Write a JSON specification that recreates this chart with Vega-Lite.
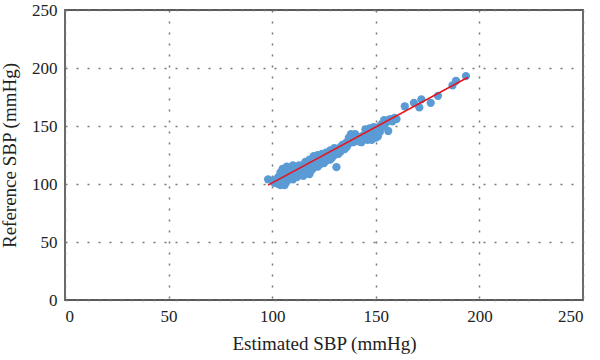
{
  "$schema": "https://vega.github.io/schema/vega-lite/v6.json",
  "width": 518,
  "height": 290,
  "autosize": {"type": "none"},
  "padding": {"left": 65, "top": 10, "right": 17, "bottom": 60},
  "background": "white",
  "config": {
    "view": {"stroke": "#5a5a5a", "strokeWidth": 1.8},
    "axis": {
      "labelFont": "Liberation Serif",
      "titleFont": "Liberation Serif",
      "labelFontSize": 17,
      "titleFontSize": 19,
      "titleFontWeight": "normal",
      "labelColor": "#222",
      "titleColor": "#222",
      "domain": false,
      "ticks": false,
      "grid": true,
      "gridColor": "#777",
      "gridDash": [2, 9],
      "gridWidth": 1.5,
      "labelPadding": 8
    }
  },
  "datasets": {
    "pts": [
      {"est": 98, "ref": 104}, {"est": 100, "ref": 103}, {"est": 101, "ref": 101}, {"est": 102, "ref": 104},
      {"est": 103, "ref": 100}, {"est": 104, "ref": 99}, {"est": 103, "ref": 106}, {"est": 104, "ref": 110},
      {"est": 105, "ref": 103}, {"est": 105, "ref": 100}, {"est": 105, "ref": 113}, {"est": 106, "ref": 108},
      {"est": 106, "ref": 112}, {"est": 106, "ref": 99}, {"est": 107, "ref": 105}, {"est": 107, "ref": 102},
      {"est": 107, "ref": 115}, {"est": 108, "ref": 110}, {"est": 108, "ref": 114}, {"est": 109, "ref": 107},
      {"est": 109, "ref": 112}, {"est": 110, "ref": 111}, {"est": 110, "ref": 104}, {"est": 110, "ref": 116},
      {"est": 111, "ref": 113}, {"est": 111, "ref": 108}, {"est": 112, "ref": 106}, {"est": 112, "ref": 115},
      {"est": 112, "ref": 109}, {"est": 113, "ref": 110}, {"est": 113, "ref": 116}, {"est": 113, "ref": 113},
      {"est": 114, "ref": 113}, {"est": 114, "ref": 108}, {"est": 115, "ref": 116}, {"est": 115, "ref": 111},
      {"est": 115, "ref": 107}, {"est": 116, "ref": 114}, {"est": 116, "ref": 119}, {"est": 116, "ref": 109},
      {"est": 117, "ref": 112}, {"est": 117, "ref": 118}, {"est": 118, "ref": 108.6}, {"est": 118, "ref": 115},
      {"est": 118, "ref": 121}, {"est": 119, "ref": 117}, {"est": 119, "ref": 120}, {"est": 119, "ref": 112},
      {"est": 120, "ref": 114}, {"est": 120, "ref": 118}, {"est": 120, "ref": 124}, {"est": 121, "ref": 116},
      {"est": 121, "ref": 122}, {"est": 122, "ref": 119}, {"est": 122, "ref": 115}, {"est": 122, "ref": 125},
      {"est": 123, "ref": 121}, {"est": 123, "ref": 117}, {"est": 124, "ref": 123}, {"est": 124, "ref": 119},
      {"est": 124, "ref": 126}, {"est": 125, "ref": 118}, {"est": 125, "ref": 122}, {"est": 126, "ref": 124},
      {"est": 126, "ref": 120}, {"est": 126, "ref": 127}, {"est": 127, "ref": 122}, {"est": 127, "ref": 126},
      {"est": 128, "ref": 121}, {"est": 128, "ref": 125}, {"est": 128, "ref": 129}, {"est": 129, "ref": 127},
      {"est": 129, "ref": 123}, {"est": 130, "ref": 125}, {"est": 130, "ref": 129}, {"est": 130, "ref": 131},
      {"est": 131, "ref": 127}, {"est": 131, "ref": 114.5}, {"est": 132, "ref": 130}, {"est": 132, "ref": 126},
      {"est": 133, "ref": 128}, {"est": 133, "ref": 132}, {"est": 134, "ref": 131}, {"est": 134, "ref": 134},
      {"est": 135, "ref": 133}, {"est": 135, "ref": 130}, {"est": 136, "ref": 136}, {"est": 136, "ref": 132},
      {"est": 137, "ref": 140}, {"est": 137, "ref": 135}, {"est": 138, "ref": 143}, {"est": 138, "ref": 138},
      {"est": 139, "ref": 141}, {"est": 139, "ref": 136}, {"est": 140, "ref": 139}, {"est": 140, "ref": 143},
      {"est": 141, "ref": 137}, {"est": 141, "ref": 141}, {"est": 142, "ref": 139}, {"est": 143, "ref": 140},
      {"est": 143, "ref": 136}, {"est": 144, "ref": 142}, {"est": 144, "ref": 138}, {"est": 145, "ref": 140},
      {"est": 145, "ref": 147}, {"est": 146, "ref": 138}, {"est": 146, "ref": 144}, {"est": 147, "ref": 148},
      {"est": 147, "ref": 141}, {"est": 148, "ref": 145}, {"est": 148, "ref": 138}, {"est": 149, "ref": 143},
      {"est": 149, "ref": 149}, {"est": 150, "ref": 140}, {"est": 150, "ref": 146}, {"est": 151, "ref": 148},
      {"est": 151, "ref": 141}, {"est": 152, "ref": 150}, {"est": 152, "ref": 145}, {"est": 153, "ref": 152},
      {"est": 154, "ref": 150}, {"est": 154, "ref": 155}, {"est": 155, "ref": 153}, {"est": 156, "ref": 155},
      {"est": 156, "ref": 145.7}, {"est": 157, "ref": 156}, {"est": 158, "ref": 154}, {"est": 159, "ref": 157},
      {"est": 160, "ref": 156}, {"est": 164, "ref": 167}, {"est": 168.4, "ref": 170}, {"est": 171, "ref": 166},
      {"est": 172, "ref": 173}, {"est": 176.5, "ref": 170}, {"est": 180, "ref": 176}, {"est": 187, "ref": 185},
      {"est": 188.7, "ref": 189}, {"est": 193.5, "ref": 193}
    ],
    "fit": [
      {"est": 98, "ref": 99},
      {"est": 194.5, "ref": 192}
    ]
  },
  "layer": [
    {
      "data": {"name": "pts"},
      "mark": {"type": "circle", "size": 68, "color": "#5b9bd5", "opacity": 1},
      "encoding": {
        "x": {"field": "est", "type": "quantitative", "scale": {"domain": [0, 250], "nice": false}, "axis": {"values": [0, 50, 100, 150, 200, 250], "title": "Estimated SBP (mmHg)", "titlePadding": 10}},
        "y": {"field": "ref", "type": "quantitative", "scale": {"domain": [0, 250], "nice": false}, "axis": {"values": [0, 50, 100, 150, 200, 250], "title": "Reference SBP (mmHg)", "titlePadding": 12}}
      }
    },
    {
      "data": {"name": "fit"},
      "mark": {"type": "line", "color": "#e8121b", "strokeWidth": 1.5},
      "encoding": {
        "x": {"field": "est", "type": "quantitative"},
        "y": {"field": "ref", "type": "quantitative"}
      }
    }
  ]
}
